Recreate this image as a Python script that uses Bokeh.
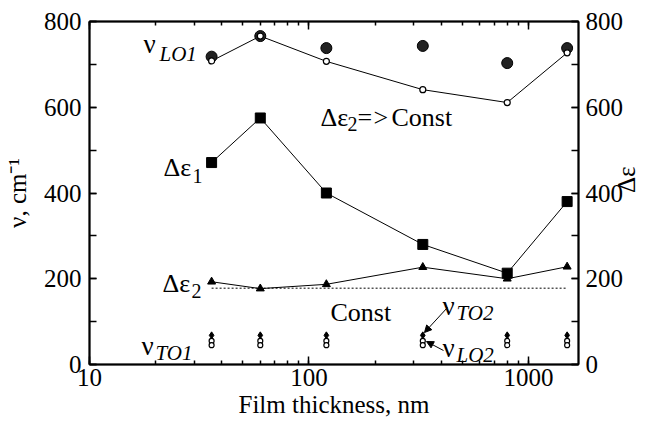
import math
from bokeh.plotting import figure
from bokeh.models import (Range1d, LinearAxis, LogAxis, SingleIntervalTicker,
                          LogTicker, Label, Arrow, NormalHead, PrintfTickFormatter)
from bokeh.embed import file_html
from bokeh.resources import INLINE

# ---- data ----
thickness = [36, 60, 120, 330, 800, 1500]
nu_lo1_sphere = [718, 766, 738, 743, 703, 738]
nu_lo1_open = [708, 766, 707, 641, 611, 727]
d_eps1 = [471, 575, 400, 280, 213, 380]
d_eps2 = [193, 177, 187, 227, 200, 228]
const_x = [36, 1500]
const_y = [178, 178]
nu_to2 = [68, 68, 68, 68, 68, 68]
nu_lo2 = [55, 55, 55, 55, 55, 55]
nu_to1 = [45, 45, 45, 45, 45, 45]

FONT = "Liberation Serif"

p = figure(width=656, height=430, x_axis_type="log",
           x_range=Range1d(10, 1690), y_range=Range1d(0, 800),
           output_backend="svg", toolbar_location=None,
           min_border_left=89, min_border_right=78,
           min_border_top=21, min_border_bottom=66)
p.extra_y_ranges = {"de": Range1d(0, 800)}
p.xgrid.visible = False
p.ygrid.visible = False
p.outline_line_color = "black"
p.outline_line_width = 1.5
p.background_fill_color = "white"
p.border_fill_color = "white"


def style_axis(ax, labels=True, major=8, minor=8):
    ax.axis_line_width = 2
    ax.axis_line_color = "black"
    ax.major_tick_in = major
    ax.major_tick_out = 0
    ax.minor_tick_in = minor
    ax.minor_tick_out = 0
    ax.major_tick_line_width = 1.5
    ax.minor_tick_line_width = 1.5
    ax.major_label_text_font = FONT
    ax.major_label_text_font_size = "25px" if labels else "2px"
    ax.major_label_text_color = "black"
    if not labels:
        ax.major_label_text_alpha = 0
    ax.axis_label_text_font = FONT
    ax.axis_label_text_font_size = "25px"
    ax.axis_label_text_font_style = "normal"
    ax.axis_label_text_color = "black"


# left axis
yl = p.yaxis[0]
yl.ticker = SingleIntervalTicker(interval=200, num_minor_ticks=2)
yl.axis_label = "ν, cm⁻¹"
style_axis(yl, major=7, minor=7)
yl.major_label_standoff = 8
yl.axis_label_standoff = 10

# right axis
yr = LinearAxis(y_range_name="de", axis_label="Δε",
                ticker=SingleIntervalTicker(interval=200, num_minor_ticks=2))
style_axis(yr, major=7, minor=7)
yr.major_label_standoff = 7
yr.axis_label_standoff = 0
try:
    yr.axis_label_orientation = math.pi / 2
except Exception:
    pass
p.add_layout(yr, "right")

# bottom axis
xb = p.xaxis[0]
xb.ticker = LogTicker(num_minor_ticks=10)
xb.formatter = PrintfTickFormatter(format="%d")
xb.axis_label = "Film thickness, nm"
style_axis(xb, major=8, minor=4)
xb.major_label_standoff = 4
xb.axis_label_standoff = 2

# top axis
xt = LogAxis(ticker=LogTicker(num_minor_ticks=10))
style_axis(xt, labels=False, major=8, minor=4)
xt.major_label_standoff = 0
p.add_layout(xt, "above")

# ---- series ----
p.line(thickness, nu_lo1_open, line_color="black", line_width=1)
p.scatter(thickness, nu_lo1_sphere, marker="circle", size=11,
          fill_color="#222222", line_color="black")
p.scatter(thickness, nu_lo1_open, marker="circle", size=6,
          fill_color="white", line_color="black", line_width=1.2)

p.line(thickness, d_eps1, line_color="black", line_width=1, y_range_name="de")
p.scatter(thickness, d_eps1, marker="square", size=10,
          fill_color="black", line_color="black", y_range_name="de")

p.line(thickness, d_eps2, line_color="black", line_width=1, y_range_name="de")
p.scatter(thickness, d_eps2, marker="triangle", size=8,
          fill_color="black", line_color="black", y_range_name="de")

p.line(const_x, const_y, line_color="black", line_width=1,
       line_dash="2 2", y_range_name="de")

p.scatter(thickness, nu_to2, marker="diamond", size=7,
          fill_color="black", line_color="black")
p.scatter(thickness, nu_lo2, marker="circle", size=5,
          fill_color="white", line_color="black", line_width=1.2)
p.scatter(thickness, nu_to1, marker="circle", size=5,
          fill_color="white", line_color="black", line_width=1.2)


# ---- annotations (positions given in frame pixels) ----
def px(X, Y):
    return 10 ** (1 + (X - 89) / 219.5), (364 - Y) * 800 / 343


def txt(s, X, Y, size=26, style="normal"):
    x, y = px(X, Y)
    p.add_layout(Label(x=x, y=y, text=s, text_font=FONT,
                       text_font_size=f"{size}px", text_font_style=style,
                       text_baseline="alphabetic", text_align="left",
                       text_color="black"))


txt("ν", 143, 43, 27)
txt("LO1", 159, 53, 21, "italic")
txt("Δε", 163, 167)
txt("1", 192, 175, 20)
txt("Δε", 162, 283)
txt("2", 191, 290, 20)
txt("Δε", 320, 117)
txt("2", 347, 123, 20)
txt("=", 357, 117)
txt(">", 373, 117)
txt("Const", 391, 117)
txt("Const", 330, 312)
txt("ν", 442, 305, 27)
txt("TO2", 456, 312, 21, "italic")
txt("ν", 442, 347, 27)
txt("LO2", 456, 354, 21, "italic")
txt("ν", 141, 345, 27)
txt("TO1", 155, 352, 21, "italic")


def arrow(X0, Y0, X1, Y1):
    x0, y0 = px(X0, Y0)
    x1, y1 = px(X1, Y1)
    p.add_layout(Arrow(end=NormalHead(size=7, fill_color="black",
                                      line_color="black", line_width=1),
                       x_start=x0, y_start=y0, x_end=x1, y_end=y1,
                       line_color="black", line_width=1))


arrow(447, 307, 424, 332)
arrow(443, 350, 426, 341)

open("out.html", "w").write(file_html(p, INLINE))
